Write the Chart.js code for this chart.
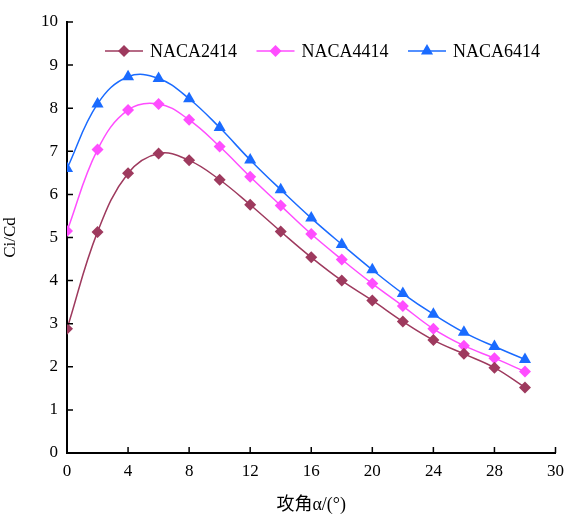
<!DOCTYPE html>
<html>
<head>
<meta charset="utf-8">
<script src="https://cdn.jsdelivr.net/npm/chart.js@4.4.0/dist/chart.umd.min.js"></script>
<style>
html,body{margin:0;padding:0;background:#fff;}
#wrap{width:572px;height:516px;position:relative;}
</style>
</head>
<body>
<div id="wrap"><canvas id="c" width="572" height="516"></canvas></div>
<script>
const angles = [0,2,4,6,8,10,12,14,16,18,20,22,24,26,28,30];
const naca2414 = [2.88,5.13,6.49,6.95,6.79,6.34,5.76,5.14,4.54,4.0,3.54,3.05,2.62,2.3,1.98,1.52];
const naca4414 = [5.15,7.04,7.96,8.1,7.73,7.11,6.41,5.74,5.08,4.49,3.93,3.41,2.88,2.49,2.2,1.89];
const naca6414 = [6.6,8.1,8.73,8.69,8.22,7.55,6.8,6.11,5.45,4.84,4.25,3.7,3.22,2.8,2.47,2.17];
const seriesNames = ['NACA2414','NACA4414','NACA6414'];
const xTickValues = [0,4,8,12,16,20,24,28,32];
const xTickLabels = ['0','4','8','12','16','20','24','28','30'];
const yTickValues = [0,1,2,3,4,5,6,7,8,9,10];

const colors = ['#9E3A5E','#FF4DFF','#1A6BFF'];
const styles = ['rectRot','rectRot','triangle'];
const radii = [6,6,7];

function mk(i, vals){
  return {
    label: seriesNames[i],
    data: angles.map((a,k)=>({x:a,y:vals[k]})),
    borderColor: colors[i],
    backgroundColor: colors[i],
    pointStyle: styles[i],
    pointRadius: radii[i],
    pointBorderWidth: 0,
    borderWidth: 1.5,
    tension: 0.4,
    fill: false
  };
}

const serif = "'Liberation Serif','DejaVu Serif',serif";

const inwardTicks = {
  id:'inwardTicks',
  afterDraw(chart){
    const ctx = chart.ctx, a = chart.chartArea;
    const xs = chart.scales.x, ys = chart.scales.y;
    ctx.save();
    ctx.strokeStyle = '#000';
    ctx.lineWidth = 1.5;
    ctx.beginPath();
    yTickValues.forEach(v=>{
      const p = ys.getPixelForValue(v);
      ctx.moveTo(a.left, p); ctx.lineTo(a.left+6, p);
    });
    xTickValues.forEach(v=>{
      const p = xs.getPixelForValue(v);
      ctx.moveTo(p, a.bottom); ctx.lineTo(p, a.bottom-6);
    });
    ctx.stroke();
    ctx.restore();
  }
};

const insideLegend = {
  id:'insideLegend',
  afterDraw(chart){
    const ctx = chart.ctx, a = chart.chartArea;
    ctx.save();
    ctx.font = "18px " + serif;
    ctx.textBaseline = 'middle';
    const y = a.top + 29;
    const lineLen = 38, gap = 7, itemPitch = 151.5;
    chart.data.datasets.forEach((ds,i)=>{
      const x = a.left + 38 + i*itemPitch;
      ctx.strokeStyle = ds.borderColor;
      ctx.lineWidth = 1.5;
      ctx.beginPath(); ctx.moveTo(x,y); ctx.lineTo(x+lineLen,y); ctx.stroke();
      ctx.fillStyle = ds.backgroundColor;
      Chart.helpers.drawPoint(ctx, {pointStyle: ds.pointStyle, radius: ds.pointRadius, borderWidth:0, rotation:0}, x+lineLen/2, y);
      ctx.fillStyle = '#000';
      ctx.fillText(ds.label, x+lineLen+gap, y+1);
    });
    ctx.restore();
  }
};

new Chart(document.getElementById('c'), {
  type:'line',
  data:{ datasets:[mk(0,naca2414), mk(1,naca4414), mk(2,naca6414)] },
  options:{
    responsive:false,
    animation:false,
    layout:{ padding:{ top:22, right:10, left:0, bottom:0 } },
    plugins:{ legend:{display:false}, tooltip:{enabled:false} },
    scales:{
      x:{
        type:'linear', min:0, max:32,
        afterBuildTicks(s){ s.ticks = xTickValues.map(v=>({value:v})); },
        afterFit(s){ s.height = 63; },
        grid:{ display:true, drawOnChartArea:false, drawTicks:false },
        border:{ display:true, color:'#000', width:2 },
        ticks:{ padding:8, color:'#000', font:{family:serif, size:17},
          callback:(v)=>{ const i = xTickValues.indexOf(v); return i>=0 ? xTickLabels[i] : ''; },
          maxRotation:0, autoSkip:false },
        title:{ display:true, text:'攻角α/(°)', color:'#000',
          font:{ family:"'Liberation Serif','Noto Sans CJK SC',serif", size:18 }, padding:{top:2,bottom:0} }
      },
      y:{
        type:'linear', min:0, max:10,
        afterBuildTicks(s){ s.ticks = yTickValues.map(v=>({value:v})); },
        afterFit(s){ s.width = 67; },
        grid:{ display:true, drawOnChartArea:false, drawTicks:false },
        border:{ display:true, color:'#000', width:2 },
        ticks:{ padding:9, color:'#000', font:{family:serif, size:17}, autoSkip:false },
        title:{ display:true, text:'Ci/Cd', color:'#000', font:{family:serif, size:17}, padding:{top:0,bottom:2} }
      }
    }
  },
  plugins:[inwardTicks, insideLegend]
});
</script>
</body>
</html>
